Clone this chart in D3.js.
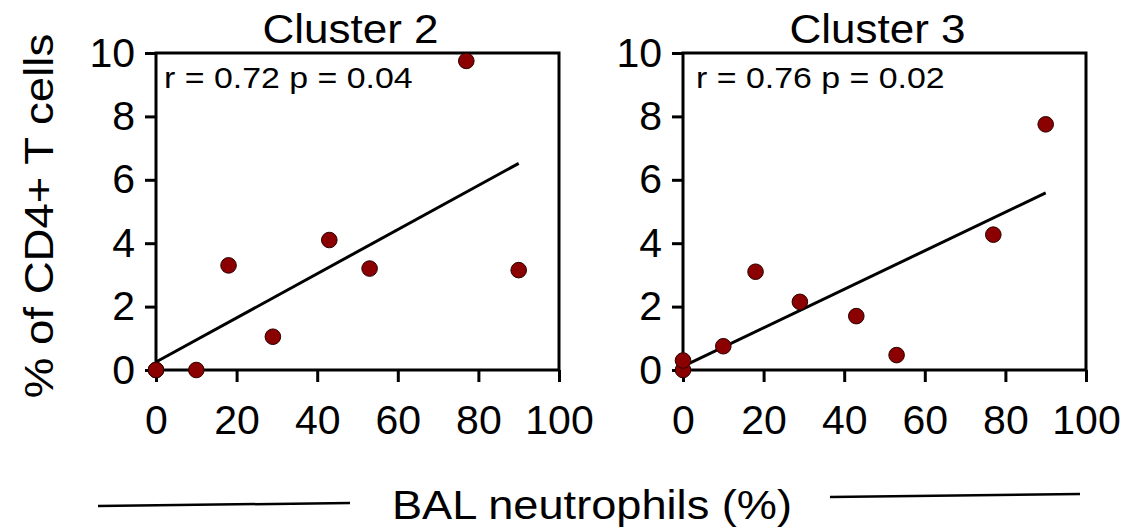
<!DOCTYPE html>
<html>
<head>
<meta charset="utf-8">
<script src="https://cdn.jsdelivr.net/npm/d3@7"></script>
<style>
  body { margin: 0; background: #fff; }
  svg { display: block; background: #fff; }
  text { font-family: "Liberation Sans", Arial, Helvetica, sans-serif; fill: #000; }
</style>
</head>
<body>
<svg id="chart" width="1134" height="529"></svg>
<script>
// BAL neutrophils (%) per subject, shared by both panels
const neutrophils = [0, 0, 10, 18, 29, 43, 53, 77, 90];
// % of CD4+ T cells in each cluster, same subject order
const cluster2 = [0, 0, 0, 3.3, 1.05, 4.1, 3.2, 9.75, 3.15];
const cluster3 = [0, 0.3, 0.75, 3.1, 2.15, 1.7, 0.47, 4.27, 7.75];

const panelTitles = ["Cluster 2", "Cluster 3"];
const statLabels = ["r = 0.72 p = 0.04", "r = 0.76 p = 0.02"];
const xTicks = [0, 20, 40, 60, 80, 100];
const yTicks = [0, 2, 4, 6, 8, 10];
const xTitle = "BAL neutrophils (%)";
const yTitle = "% of CD4+ T cells";

const svg = d3.select("#chart");

const panelLeft = [156, 683];
const statInset = [8, 13];
const panelW = 403, panelH = 317, panelTop = 53;
const series = [cluster2, cluster3];

// Ordinary least-squares fit, drawn across the observed x range
function fit(xs, ys) {
  const mx = d3.mean(xs), my = d3.mean(ys);
  let sxy = 0, sxx = 0;
  xs.forEach((x, i) => { sxy += (x - mx) * (ys[i] - my); sxx += (x - mx) * (x - mx); });
  const b = sxy / sxx;
  return { a: my - b * mx, b };
}

// Text drawn slightly wider than the stock face
function wideText(g, str, x, y, size, sx, anchor, rot) {
  return g.append("text")
    .attr("transform", `translate(${x},${y}) rotate(${rot || 0}) scale(${sx},1)`)
    .attr("text-anchor", anchor)
    .style("font-size", size + "px")
    .text(str);
}

series.forEach((ys, p) => {
  const g = svg.append("g").attr("transform", `translate(${panelLeft[p]},${panelTop})`);
  const x = d3.scaleLinear().domain([0, 100]).range([0, panelW]);
  const y = d3.scaleLinear().domain([0, 10]).range([panelH, 0]);

  const yAxis = g.append("g")
    .call(d3.axisLeft(y).tickValues(yTicks).tickSize(11).tickSizeOuter(0).tickPadding(10));
  const xAxis = g.append("g").attr("transform", `translate(0,${panelH})`)
    .call(d3.axisBottom(x).tickValues(xTicks).tickSize(12).tickSizeOuter(0).tickPadding(23));

  [yAxis, xAxis].forEach(ax => {
    ax.select(".domain").remove();
    ax.selectAll(".tick line").attr("stroke", "#000").attr("stroke-width", 3);
    ax.selectAll(".tick text")
      .style("font-size", "41px")
      .style("font-family", "'Liberation Sans', Arial, sans-serif")
      .attr("fill", "#000");
  });

  // plot frame
  g.append("rect")
    .attr("x", 0).attr("y", 0)
    .attr("width", panelW).attr("height", panelH)
    .attr("fill", "none").attr("stroke", "#000").attr("stroke-width", 3);

  // regression line
  const f = fit(neutrophils, ys);
  const xr = d3.extent(neutrophils);
  g.append("line")
    .attr("x1", x(xr[0])).attr("y1", y(f.a + f.b * xr[0]))
    .attr("x2", x(xr[1])).attr("y2", y(f.a + f.b * xr[1]))
    .attr("stroke", "#000").attr("stroke-width", 3);

  // subjects
  g.selectAll("circle.pt")
    .data(neutrophils.map((v, i) => [v, ys[i]]))
    .join("circle")
    .attr("class", "pt")
    .attr("cx", d => x(d[0]))
    .attr("cy", d => y(d[1]))
    .attr("r", 7.8)
    .attr("fill", "#8b0000")
    .attr("stroke", "#2a0000")
    .attr("stroke-width", 1);

  wideText(g, panelTitles[p], panelW / 2 - 7, -10, 40, 1.1, "middle");
  wideText(g, statLabels[p], statInset[p], 35, 30, 1.13, "start");
});

// shared y-axis title
wideText(svg, yTitle, 53, 216, 40, 1.14, "middle", -90);

// shared x-axis title flanked by rules
wideText(svg, xTitle, 592, 519, 40, 1.13, "middle");
svg.append("line").attr("x1", 98).attr("y1", 506).attr("x2", 350).attr("y2", 503)
  .attr("stroke", "#000").attr("stroke-width", 2.5);
svg.append("line").attr("x1", 830).attr("y1", 497).attr("x2", 1080).attr("y2", 494)
  .attr("stroke", "#000").attr("stroke-width", 2.5);
</script>
</body>
</html>
